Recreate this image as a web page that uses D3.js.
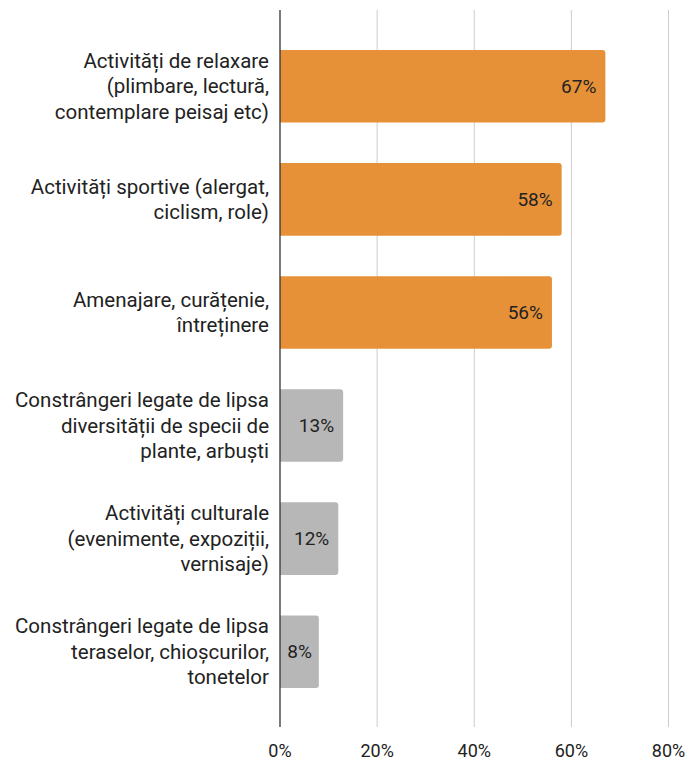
<!DOCTYPE html>
<html><head><meta charset="utf-8">
<script src="https://cdn.jsdelivr.net/npm/d3@7"></script>
<style>body{margin:0;background:#fff;} text{font-family:Roboto,"Noto Sans",sans-serif;}</style>
</head><body><svg id="c" width="689" height="761"></svg>
<script>
const categories = [
  ["Activități de relaxare","(plimbare, lectură,","contemplare peisaj etc)"],
  ["Activități sportive (alergat,","ciclism, role)"],
  ["Amenajare, curățenie,","întreținere"],
  ["Constrângeri legate de lipsa","diversității de specii de","plante, arbuști"],
  ["Activități culturale","(evenimente, expoziții,","vernisaje)"],
  ["Constrângeri legate de lipsa","teraselor, chioșcurilor,","tonetelor"]
];
const values = [67, 58, 56, 13, 12, 8];
const highlight = [true, true, true, false, false, false];
const ticks = [0, 20, 40, 60, 80];

const svg = d3.select("#c");
const x = d3.scaleLinear().domain([0, 80]).range([280, 668.5]);
const y = d3.scaleBand().domain(d3.range(values.length)).range([10, 728]).paddingInner(0.358).paddingOuter(0.353);

// grid
svg.append("g").selectAll("line").data(ticks.slice(1)).join("line")
  .attr("x1", d => x(d)).attr("x2", d => x(d)).attr("y1", 10).attr("y2", 727)
  .attr("stroke", "#cccccc").attr("stroke-width", 1);

// bars
const r = 3;
svg.append("g").selectAll("path").data(values).join("path")
  .attr("d", (d, i) => {
    const x0 = x(0), x1 = x(d), y0 = y(i), h = y.bandwidth();
    return `M${x0},${y0}H${x1 - r}Q${x1},${y0} ${x1},${y0 + r}V${y0 + h - r}Q${x1},${y0 + h} ${x1 - r},${y0 + h}H${x0}Z`;
  })
  .attr("fill", (d, i) => highlight[i] ? "#e69138" : "#b7b7b7");

// axis line
svg.append("line").attr("x1", x(0)).attr("x2", x(0)).attr("y1", 10).attr("y2", 727)
  .attr("stroke", "#333").attr("stroke-width", 1.3);

// value labels
svg.append("g").selectAll("text").data(values).join("text")
  .attr("x", d => x(d) - (d < 10 ? 7 : 9))
  .attr("y", (d, i) => y(i) + y.bandwidth() / 2)
  .attr("dy", "0.35em").attr("text-anchor", "end")
  .attr("font-size", 19).attr("fill", "#222")
  .text(d => d + "%");

// category labels
const lh = 25.5;
svg.append("g").selectAll("text").data(categories).join("text")
  .attr("text-anchor", "end").attr("font-size", 20.5).attr("fill", "#222")
  .each(function(lines, i) {
    const cy = y(i) + y.bandwidth() / 2;
    const t = d3.select(this);
    lines.forEach((l, k) => {
      t.append("tspan").attr("x", 269)
        .attr("y", cy + (k - (lines.length - 1) / 2) * lh)
        .attr("dy", "0.35em").text(l);
    });
  });

// x tick labels
svg.append("g").selectAll("text").data(ticks).join("text")
  .attr("x", d => x(d)).attr("y", 757).attr("text-anchor", "middle")
  .attr("font-size", 18).attr("fill", "#222")
  .text(d => d + "%");
</script></body></html>
